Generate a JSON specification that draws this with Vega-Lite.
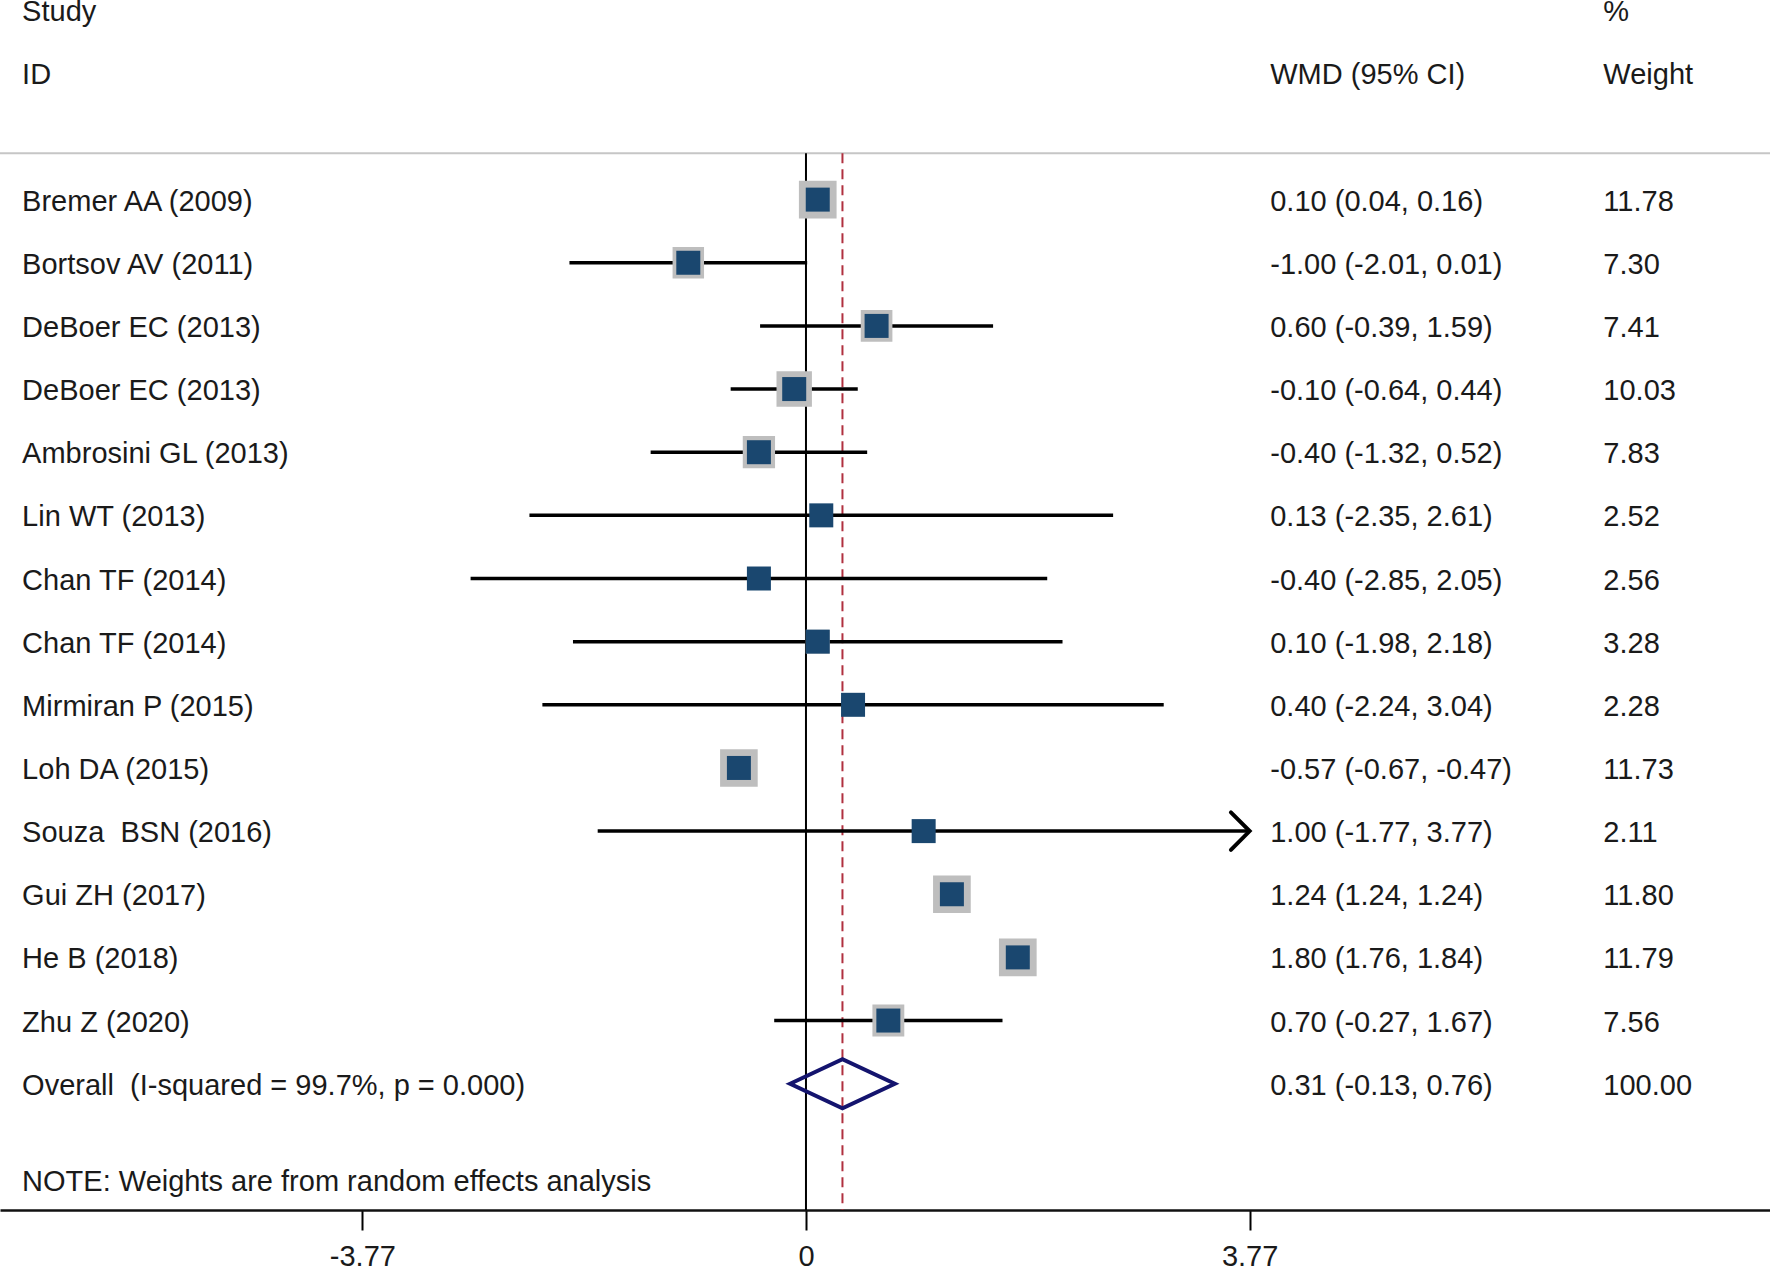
{
  "$schema": "https://vega.github.io/schema/vega-lite/v6.json",
  "width": 1770,
  "height": 1210,
  "autosize": {"type": "none"},
  "padding": {"left": 0, "top": 0, "right": 0, "bottom": 60},
  "background": "white",
  "config": {
    "view": {"stroke": null},
    "text": {"font": "Liberation Sans", "fontSize": 29, "color": "#1a1a1a", "dy": 2}
  },
  "datasets": {
    "rows": [
      {"study": "Bremer AA (2009)", "row": 1, "est": 0.10, "lo": 0.04, "hi": 0.16, "weight": 11.78},
      {"study": "Bortsov AV (2011)", "row": 2, "est": -1.00, "lo": -2.01, "hi": 0.01, "weight": 7.30},
      {"study": "DeBoer EC (2013)", "row": 3, "est": 0.60, "lo": -0.39, "hi": 1.59, "weight": 7.41},
      {"study": "DeBoer EC (2013)", "row": 4, "est": -0.10, "lo": -0.64, "hi": 0.44, "weight": 10.03},
      {"study": "Ambrosini GL (2013)", "row": 5, "est": -0.40, "lo": -1.32, "hi": 0.52, "weight": 7.83},
      {"study": "Lin WT (2013)", "row": 6, "est": 0.13, "lo": -2.35, "hi": 2.61, "weight": 2.52},
      {"study": "Chan TF (2014)", "row": 7, "est": -0.40, "lo": -2.85, "hi": 2.05, "weight": 2.56},
      {"study": "Chan TF (2014)", "row": 8, "est": 0.10, "lo": -1.98, "hi": 2.18, "weight": 3.28},
      {"study": "Mirmiran P (2015)", "row": 9, "est": 0.40, "lo": -2.24, "hi": 3.04, "weight": 2.28},
      {"study": "Loh DA (2015)", "row": 10, "est": -0.57, "lo": -0.67, "hi": -0.47, "weight": 11.73},
      {"study": "Souza  BSN (2016)", "row": 11, "est": 1.00, "lo": -1.77, "hi": 3.77, "weight": 2.11},
      {"study": "Gui ZH (2017)", "row": 12, "est": 1.24, "lo": 1.24, "hi": 1.24, "weight": 11.80},
      {"study": "He B (2018)", "row": 13, "est": 1.80, "lo": 1.76, "hi": 1.84, "weight": 11.79},
      {"study": "Zhu Z (2020)", "row": 14, "est": 0.70, "lo": -0.27, "hi": 1.67, "weight": 7.56}
    ],
    "overall": [
      {"study": "Overall (I-squared = 99.7%, p = 0.000)", "row": 15, "est": 0.31, "lo": -0.13, "hi": 0.76, "weight": 100}
    ],
    "table": [
      {"col": "study", "row": -2, "text": "Study"},
      {"col": "study", "row": -1, "text": "ID"},
      {"col": "study", "row": 1, "text": "Bremer AA (2009)"},
      {"col": "study", "row": 2, "text": "Bortsov AV (2011)"},
      {"col": "study", "row": 3, "text": "DeBoer EC (2013)"},
      {"col": "study", "row": 4, "text": "DeBoer EC (2013)"},
      {"col": "study", "row": 5, "text": "Ambrosini GL (2013)"},
      {"col": "study", "row": 6, "text": "Lin WT (2013)"},
      {"col": "study", "row": 7, "text": "Chan TF (2014)"},
      {"col": "study", "row": 8, "text": "Chan TF (2014)"},
      {"col": "study", "row": 9, "text": "Mirmiran P (2015)"},
      {"col": "study", "row": 10, "text": "Loh DA (2015)"},
      {"col": "study", "row": 11, "text": "Souza\u00a0 BSN (2016)"},
      {"col": "study", "row": 12, "text": "Gui ZH (2017)"},
      {"col": "study", "row": 13, "text": "He B (2018)"},
      {"col": "study", "row": 14, "text": "Zhu Z (2020)"},
      {"col": "study", "row": 15, "text": "Overall\u00a0 (I-squared = 99.7%, p = 0.000)"},
      {"col": "study", "row": 16.52, "text": "NOTE: Weights are from random effects analysis"},
      {"col": "ci", "row": -1, "text": "WMD (95% CI)"},
      {"col": "ci", "row": 1, "text": "0.10 (0.04, 0.16)"},
      {"col": "ci", "row": 2, "text": "-1.00 (-2.01, 0.01)"},
      {"col": "ci", "row": 3, "text": "0.60 (-0.39, 1.59)"},
      {"col": "ci", "row": 4, "text": "-0.10 (-0.64, 0.44)"},
      {"col": "ci", "row": 5, "text": "-0.40 (-1.32, 0.52)"},
      {"col": "ci", "row": 6, "text": "0.13 (-2.35, 2.61)"},
      {"col": "ci", "row": 7, "text": "-0.40 (-2.85, 2.05)"},
      {"col": "ci", "row": 8, "text": "0.10 (-1.98, 2.18)"},
      {"col": "ci", "row": 9, "text": "0.40 (-2.24, 3.04)"},
      {"col": "ci", "row": 10, "text": "-0.57 (-0.67, -0.47)"},
      {"col": "ci", "row": 11, "text": "1.00 (-1.77, 3.77)"},
      {"col": "ci", "row": 12, "text": "1.24 (1.24, 1.24)"},
      {"col": "ci", "row": 13, "text": "1.80 (1.76, 1.84)"},
      {"col": "ci", "row": 14, "text": "0.70 (-0.27, 1.67)"},
      {"col": "ci", "row": 15, "text": "0.31 (-0.13, 0.76)"},
      {"col": "wt", "row": -2, "text": "%"},
      {"col": "wt", "row": -1, "text": "Weight"},
      {"col": "wt", "row": 1, "text": "11.78"},
      {"col": "wt", "row": 2, "text": "7.30"},
      {"col": "wt", "row": 3, "text": "7.41"},
      {"col": "wt", "row": 4, "text": "10.03"},
      {"col": "wt", "row": 5, "text": "7.83"},
      {"col": "wt", "row": 6, "text": "2.52"},
      {"col": "wt", "row": 7, "text": "2.56"},
      {"col": "wt", "row": 8, "text": "3.28"},
      {"col": "wt", "row": 9, "text": "2.28"},
      {"col": "wt", "row": 10, "text": "11.73"},
      {"col": "wt", "row": 11, "text": "2.11"},
      {"col": "wt", "row": 12, "text": "11.80"},
      {"col": "wt", "row": 13, "text": "11.79"},
      {"col": "wt", "row": 14, "text": "7.56"},
      {"col": "wt", "row": 15, "text": "100.00"}
    ]
  },
  "layer": [
    {
      "data": {"name": "overall"},
      "mark": {"type": "rule", "color": "#c6c6c6", "strokeWidth": 2},
      "encoding": {
        "y": {"datum": 0.267, "type": "quantitative", "scale": {"domain": [-2.161, 17], "reverse": true, "nice": false, "zero": false}, "axis": null}
      }
    },
    {
      "data": {"name": "overall"},
      "mark": {"type": "rule", "color": "#000000", "strokeWidth": 2},
      "encoding": {
        "x": {
          "datum": 0, "type": "quantitative",
          "scale": {"domain": [-6.849, 8.192], "nice": false, "zero": false},
          "axis": {
            "values": [-3.77, 0, 3.77], "format": ".2~f", "title": null, "grid": false,
            "labelExpr": "replace(datum.label, '\u2212', '-')",
            "tickSize": 20, "tickWidth": 2, "tickColor": "#000000",
            "domainColor": "#111111", "domainWidth": 2.5,
            "labelFont": "Liberation Sans", "labelFontSize": 29, "labelColor": "#1a1a1a",
            "labelPadding": 12, "labelFlush": false, "labelOverlap": false
          }
        },
        "y": {"datum": 0.267, "type": "quantitative"},
        "y2": {"datum": 17}
      }
    },
    {
      "data": {"name": "overall"},
      "mark": {"type": "rule", "color": "#b0303f", "strokeWidth": 2, "strokeDash": [10, 6]},
      "encoding": {
        "x": {"field": "est", "type": "quantitative"},
        "y": {"datum": 0.267, "type": "quantitative"},
        "y2": {"datum": 17}
      }
    },
    {
      "data": {"name": "rows"},
      "mark": {"type": "rule", "color": "#000000", "strokeWidth": 3.5},
      "encoding": {
        "x": {"field": "lo", "type": "quantitative"},
        "x2": {"field": "hi"},
        "y": {"field": "row", "type": "quantitative"}
      }
    },
    {
      "data": {"name": "rows"},
      "mark": {"type": "point", "shape": "square", "filled": true, "color": "#bebebe", "stroke": "#bebebe", "strokeWidth": 8.5, "opacity": 1},
      "encoding": {
        "x": {"field": "est", "type": "quantitative"},
        "y": {"field": "row", "type": "quantitative"},
        "size": {"field": "weight", "type": "quantitative", "scale": {"domain": [0, 12], "range": [0, 867]}, "legend": null}
      }
    },
    {
      "data": {"name": "rows"},
      "mark": {"type": "point", "shape": "square", "filled": true, "color": "#1a476f", "size": 576, "opacity": 1},
      "encoding": {
        "x": {"field": "est", "type": "quantitative"},
        "y": {"field": "row", "type": "quantitative"}
      }
    },
    {
      "data": {"name": "rows"},
      "transform": [{"filter": "datum.hi >= 3.77"}],
      "mark": {"type": "point", "shape": "M-1,-1L0,0L-1,1", "filled": false, "stroke": "#000000", "strokeWidth": 4, "size": 1400, "opacity": 1, "strokeCap": "round"},
      "encoding": {
        "x": {"field": "hi", "type": "quantitative"},
        "y": {"field": "row", "type": "quantitative"}
      }
    },
    {
      "data": {"name": "overall"},
      "mark": {"type": "point", "shape": "M-1,0L0,-0.468L1,0L0,0.468Z", "filled": false, "stroke": "#14146e", "strokeWidth": 4, "size": 10962, "opacity": 1},
      "encoding": {
        "x": {"field": "est", "type": "quantitative"},
        "y": {"field": "row", "type": "quantitative"}
      }
    },
    {
      "data": {"name": "table"},
      "transform": [{"filter": "datum.col === 'study'"}],
      "mark": {"type": "text", "align": "left", "baseline": "middle"},
      "encoding": {
        "x": {"datum": -6.661, "type": "quantitative"},
        "y": {"field": "row", "type": "quantitative"},
        "text": {"field": "text"}
      }
    },
    {
      "data": {"name": "table"},
      "transform": [{"filter": "datum.col === 'ci'"}],
      "mark": {"type": "text", "align": "left", "baseline": "middle"},
      "encoding": {
        "x": {"datum": 3.945, "type": "quantitative"},
        "y": {"field": "row", "type": "quantitative"},
        "text": {"field": "text"}
      }
    },
    {
      "data": {"name": "table"},
      "transform": [{"filter": "datum.col === 'wt'"}],
      "mark": {"type": "text", "align": "left", "baseline": "middle"},
      "encoding": {
        "x": {"datum": 6.776, "type": "quantitative"},
        "y": {"field": "row", "type": "quantitative"},
        "text": {"field": "text"}
      }
    }
  ]
}
